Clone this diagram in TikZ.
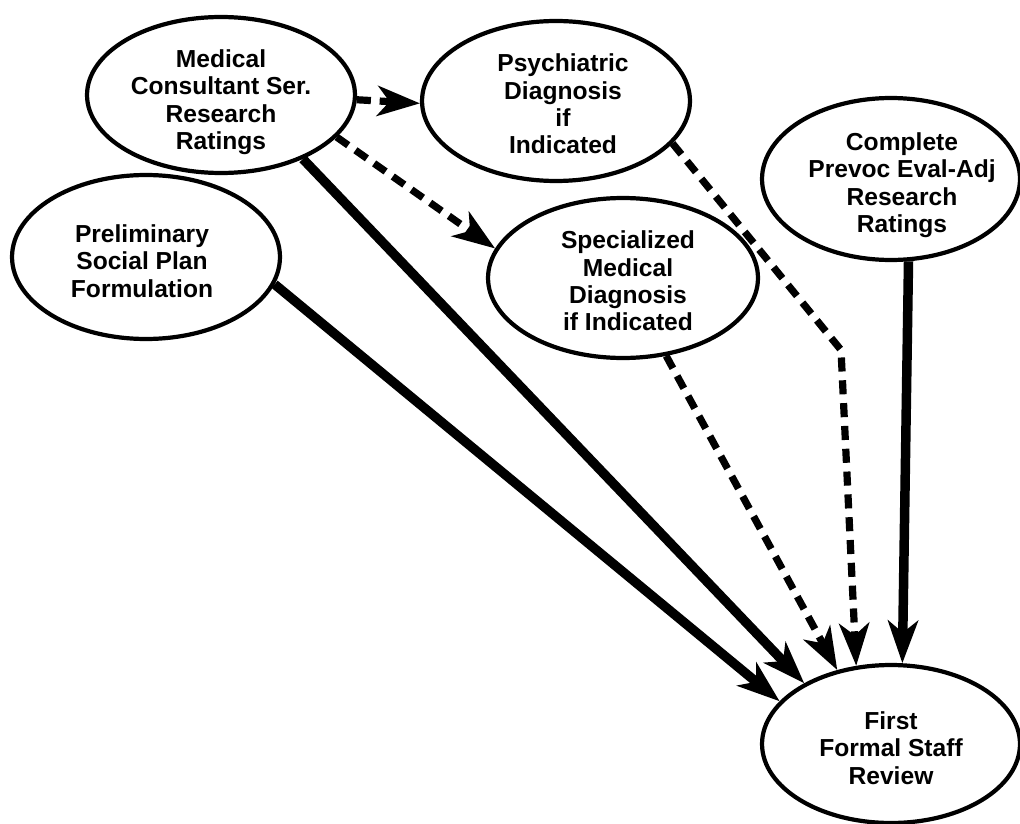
\documentclass[tikz,border=0pt]{standalone}
\usepackage{fontspec}
\setmainfont{Liberation Sans}
\usetikzlibrary{arrows.meta,shapes.geometric}
\begin{document}
\begin{tikzpicture}[x=0.02cm,y=-0.02cm,
  bubble/.style={ellipse,draw,line width=2.4pt,inner sep=0pt},
  txt/.style={align=center,font=\bfseries\fontsize{14}{15.6}\selectfont,inner sep=0pt},
  tip/.style={-{Stealth[length=0.85cm,width=0.6cm,inset=0.24cm]}},
  solidflow/.style={tip,line width=5.4pt},
  dashflow/.style={tip,line width=4.1pt,dash pattern=on 8pt off 5pt}]
\useasboundingbox (0,0) rectangle (1020,824);

% activities
\node[bubble,minimum width=5.36cm,minimum height=3.12cm,
  label={[txt,yshift=-0.14cm]center:Medical\\Consultant Ser.\\Research\\Ratings}] (med) at (221,95) {};
\node[bubble,minimum width=5.36cm,minimum height=3.2cm,
  label={[txt,xshift=0.14cm,yshift=-0.06cm]center:Psychiatric\\Diagnosis\\if\\Indicated}] (psy) at (556,101) {};
\node[bubble,minimum width=5.36cm,minimum height=3.28cm,
  label={[txt,xshift=-0.08cm,yshift=-0.08cm]center:Preliminary\\Social Plan\\Formulation}] (pre) at (146,257) {};
\node[bubble,minimum width=5.4cm,minimum height=3.2cm,
  label={[txt,xshift=0.1cm,yshift=-0.06cm]center:Specialized\\Medical\\Diagnosis\\if Indicated}] (spec) at (623,278) {};
\node[bubble,minimum width=5.16cm,minimum height=3.24cm,
  label={[txt,xshift=0.22cm,yshift=-0.12cm]center:Complete\\Prevoc Eval-Adj\\Research\\Ratings}] (comp) at (891,179) {};
\node[bubble,minimum width=5.16cm,minimum height=3.16cm,
  label={[txt,yshift=-0.08cm]center:First\\Formal Staff\\Review}] (first) at (891,744) {};

\coordinate (bend) at (841,350);

% flows
\draw[dashflow] (med.-2) -- (psy.181);
\draw[dashflow] (med.-20) -- (spec.167);
\draw[solidflow] (med.-38) -- (first.145);
\draw[solidflow] (pre.-12) -- (first.159);
\draw[dashflow] (spec.-61) -- (first.126);
\draw[dashflow] (psy.-20) -- (bend) -- (first.114);
\draw[solidflow] (comp.-78) -- (first.82);
\end{tikzpicture}
\end{document}
